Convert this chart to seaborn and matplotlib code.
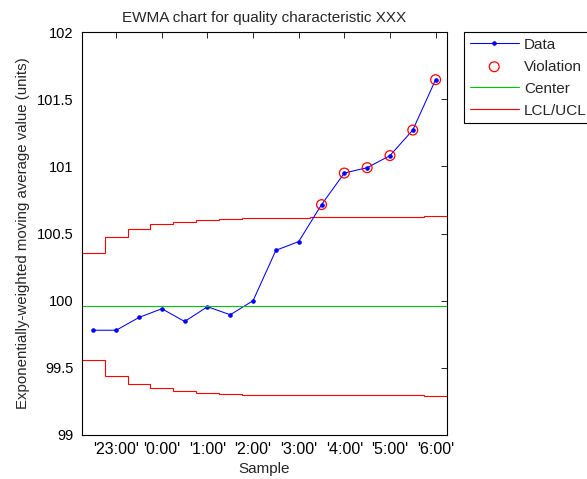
import numpy as np
import pandas as pd
import matplotlib
matplotlib.use('Agg')
import matplotlib.pyplot as plt
import seaborn as sns

# EWMA values per sample
sample = np.arange(1, 17)
ewma = [99.78, 99.78, 99.875, 99.94, 99.845, 99.955, 99.895, 100.0,
        100.375, 100.44, 100.715, 100.95, 100.99, 101.08, 101.27, 101.645]
center = 99.96
ucl = [100.357, 100.472, 100.537, 100.567, 100.588, 100.598, 100.607, 100.612,
       100.616, 100.618, 100.62, 100.62, 100.62, 100.62, 100.62, 100.63]
lcl = [99.56, 99.44, 99.38, 99.347, 99.33, 99.315, 99.305, 99.3,
       99.297, 99.295, 99.295, 99.295, 99.295, 99.295, 99.295, 99.29]
tick_samples = [2, 4, 6, 8, 10, 12, 14, 16]
tick_labels = ["'23:00'", "'0:00'", "'1:00'", "'2:00'", "'3:00'", "'4:00'", "'5:00'", "'6:00'"]

df = pd.DataFrame({'Sample': sample, 'EWMA': ewma, 'UCL': ucl, 'LCL': lcl})
viol = df[(df['EWMA'] > df['UCL']) | (df['EWMA'] < df['LCL'])]

sns.set_style('white')
plt.rcParams['font.family'] = ['Liberation Sans', 'DejaVu Sans']
plt.rcParams['font.size'] = 11

fig = plt.figure(figsize=(5.87, 4.79), dpi=100)
ax = fig.add_axes([82 / 587, 1 - 435 / 479, 365 / 587, 403 / 479])

sns.lineplot(data=df, x='Sample', y='EWMA', ax=ax, color='blue', lw=0.75,
             marker='.', markersize=5, mec='blue', label='Data')
sns.scatterplot(data=viol, x='Sample', y='EWMA', ax=ax, marker='o', s=50,
                facecolor='none', edgecolor='red', linewidth=0.9, label='Violation', zorder=3)
ax.axhline(center, color='#00c800', lw=0.8, label='Center')
edges = np.arange(0.5, 17)
ax.stairs(ucl, edges, baseline=None, color='red', lw=0.8, label='LCL/UCL')
ax.stairs(lcl, edges, baseline=None, color='red', lw=0.8)

ax.set_xlim(0.5, 16.5)
ax.set_ylim(99, 102)
ax.set_yticks([99, 99.5, 100, 100.5, 101, 101.5, 102])
ax.set_yticklabels(['99', '99.5', '100', '100.5', '101', '101.5', '102'])
ax.set_xticks(tick_samples)
ax.set_xticklabels(tick_labels)
ax.tick_params(direction='in', length=4, width=0.6, top=True, right=True, colors='black')
ax.tick_params(axis='x', labelsize=11.5, pad=5)
ax.tick_params(axis='y', labelsize=10.5, pad=6)
for s in ax.spines.values():
    s.set_color('black')
    s.set_linewidth(0.8)

ax.set_title('EWMA chart for quality characteristic XXX', fontsize=11, pad=7)
ax.set_xlabel('Sample', fontsize=11, labelpad=3.5)
ax.set_ylabel('Exponentially-weighted moving average value (units)', fontsize=10.8, labelpad=5)

leg = ax.legend(loc='upper left', bbox_to_anchor=(464 / 587, 1 - 32 / 479),
                bbox_transform=fig.transFigure, frameon=True, fancybox=False,
                edgecolor='black', framealpha=1, borderaxespad=0, handlelength=3.2,
                labelspacing=0.52, borderpad=0.38, handletextpad=0.35, fontsize=11)
leg.get_frame().set_linewidth(0.8)

fig.savefig('out.png', dpi=100)
